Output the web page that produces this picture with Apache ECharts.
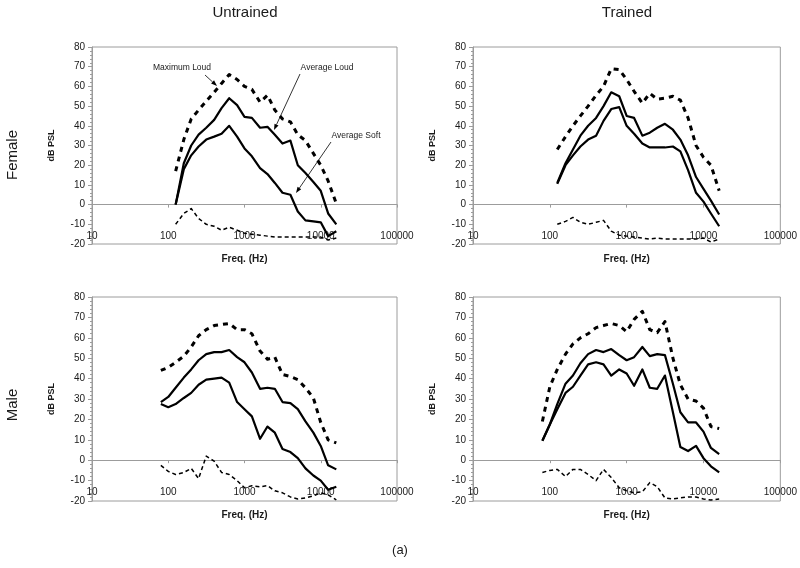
<!DOCTYPE html>
<html><head><meta charset="utf-8">
<script src="https://cdn.jsdelivr.net/npm/echarts@6/dist/echarts.min.js"></script>
<style>html,body{margin:0;padding:0;background:#fff}#c{width:800px;height:568px}</style>
</head><body><div id="c"></div>
<script>
// ---- categories (1/3-octave band centre frequencies, Hz) ----
const freqFemale = [125,160,200,250,315,400,500,630,800,1000,1250,1600,2000,2500,3150,4000,5000,6300,8000,10000,12500,16000];
const freqMale = [80,100,125,160,200,250,315,400,500,630,800,1000,1250,1600,2000,2500,3150,4000,5000,6300,8000,10000,12500,16000];

// ---- tick labels ----
const xTickLabels = [10, 100, 1000, 10000, 100000];
const yTickLabels = [-20, -10, 0, 10, 20, 30, 40, 50, 60, 70, 80];

// ---- Female, untrained ----
const fuMaxLoud = [17, 33, 43.5, 48, 52.5, 57, 61.5, 66, 63.5, 60, 58.5, 52, 55.5, 48, 43.5, 42, 35.5, 32.5, 26, 20, 12, 0.5];
const fuAvgLoud = [0, 21, 30, 35.5, 39, 43, 49, 54, 50.5, 44.5, 44, 39, 39.5, 35.5, 31, 32.5, 20, 16, 11.5, 7, -4.5, -10];
const fuAvgSoft = [0, 18, 25, 29.5, 33, 34.5, 36, 40, 34.5, 28.5, 24.5, 18.5, 15.5, 11, 6, 5, -3.5, -8, -8.5, -9, -16, -13.5];
const fuLower   = [-10, -4.5, -2, -7, -10, -11, -13, -11.5, -13, -14.5, -15, -15.5, -16, -16.5, -16.5, -16.5, -16.5, -16.5, -16.5, -16.5, -18, -17];

// ---- Female, trained ----
const ftMaxLoud = [28, 34.5, 40, 45, 50, 55.5, 60, 69, 68.5, 63.5, 57.5, 51.5, 56.5, 53.5, 54, 55, 53, 44, 30, 24, 20, 7];
const ftAvgLoud = [11, 21, 28, 35, 40, 44, 50, 57, 55, 45, 44, 35, 36.5, 39, 41, 38, 33, 25, 14, 8, 2, -5];
const ftAvgSoft = [10.5, 20, 25, 29.5, 33, 35, 42.5, 48.5, 49.5, 40, 36, 31, 29, 29, 29, 29.5, 27, 17.5, 6, 1.5, -4.5, -11];
const ftLower   = [-10, -8.5, -6.5, -9, -10, -9, -8, -13.5, -15.5, -16, -16.5, -17, -17.5, -17, -17.5, -17.5, -17.5, -17.5, -17.5, -17, -19, -17.5];

// ---- Male, untrained ----
const muMaxLoud = [44, 45.5, 48, 51, 55.5, 61, 64, 66, 66.5, 67, 64, 64, 62, 53.5, 49.5, 50.5, 42, 41, 39.5, 35.5, 30.5, 18.5, 10, 8.5];
const muAvgLoud = [28.5, 31, 35.5, 40.5, 44.5, 49, 52, 53, 53, 54, 50.5, 48, 43, 35, 35.5, 35, 28.5, 28, 25, 19, 13.5, 7, -2.5, -4.5];
const muAvgSoft = [27.5, 26, 27.5, 30.5, 33, 37, 39.5, 40, 40.5, 38, 28.5, 25, 21.5, 10.5, 16.5, 13.5, 5.5, 4, 1, -4, -7.5, -10, -14.5, -13];
const muLower   = [-2.5, -5.5, -7, -6, -4, -9, 2, -0.5, -6, -7, -10, -13.5, -12.5, -13, -12.5, -15, -16, -18, -19, -18.5, -17.5, -16, -17, -19.5];

// ---- Male, trained ----
const mtMaxLoud = [19, 36, 44.5, 52, 57, 60, 62, 65, 66, 67, 66, 63, 69, 73, 64, 62.5, 68, 50, 37, 30, 29, 25.5, 16.5, 15.5];
const mtAvgLoud = [9.5, 17.5, 27.5, 37.5, 41.5, 47.5, 52, 54, 53, 54.5, 51.5, 49, 50.5, 55.5, 51, 52, 51.5, 37.5, 23.5, 18.5, 18.5, 14, 6, 3];
const mtAvgSoft = [9.5, 17.5, 25, 33, 36, 41.5, 47, 48, 47, 41.5, 44.5, 42.5, 36.5, 44.5, 35.5, 35, 41.5, 23.5, 6.5, 4.5, 7, 1, -3, -6];
const mtLower   = [-6, -5, -4.5, -8, -4.5, -4.5, -7, -10, -4.5, -8.5, -13.5, -15, -16, -15.5, -11, -13, -18.5, -19, -18.5, -18, -18, -19, -19.5, -19];

const FONT = "'Liberation Sans', Arial, sans-serif";
const GRAY = '#9c9c9c';
const TXT = '#1a1a1a';

const panels = [
  {freq: freqFemale, ml: fuMaxLoud, al: fuAvgLoud, as: fuAvgSoft, lo: fuLower, grid: {left: 92, top: 47, width: 305, height: 197}},
  {freq: freqFemale, ml: ftMaxLoud, al: ftAvgLoud, as: ftAvgSoft, lo: ftLower, grid: {left: 473, top: 47, width: 308, height: 197}},
  {freq: freqMale,   ml: muMaxLoud, al: muAvgLoud, as: muAvgSoft, lo: muLower, grid: {left: 92, top: 297, width: 305, height: 204}},
  {freq: freqMale,   ml: mtMaxLoud, al: mtAvgLoud, as: mtAvgSoft, lo: mtLower, grid: {left: 473, top: 297, width: 308, height: 204}}
];

const yMin = yTickLabels[0], yMax = yTickLabels[yTickLabels.length - 1];
const yStep = yTickLabels[1] - yTickLabels[0];
const xCross = -10;

const grids = [], xAxes = [], yAxes = [], series = [];
panels.forEach((p, i) => {
  grids.push(Object.assign({show: true, borderColor: GRAY, borderWidth: 1, backgroundColor: 'transparent'}, p.grid));
  const pxPerUnit = p.grid.height / (yMax - yMin);
  xAxes.push({
    type: 'log', logBase: 10, gridIndex: i,
    min: xTickLabels[0], max: xTickLabels[xTickLabels.length - 1],
    position: 'bottom',
    offset: -(xCross - yMin) * pxPerUnit,
    axisLine: {show: true, lineStyle: {color: GRAY, width: 1}},
    axisTick: {show: true, length: 3, lineStyle: {color: GRAY}},
    minorTick: {show: false},
    splitLine: {show: false},
    axisLabel: {fontSize: 10, color: TXT, fontFamily: FONT, margin: 7,
      showMinLabel: true, showMaxLabel: true,
      formatter: v => String(Math.round(v))},
    name: 'Freq. (Hz)', nameLocation: 'middle', nameGap: 30,
    nameTextStyle: {fontSize: 10, fontWeight: 'bold', color: TXT, fontFamily: FONT}
  });
  yAxes.push({
    type: 'value', gridIndex: i, min: yMin, max: yMax, interval: yStep,
    axisLine: {show: true, lineStyle: {color: GRAY, width: 1}},
    axisTick: {show: true, length: 4, lineStyle: {color: GRAY}},
    minorTick: {show: true, splitNumber: 5, length: 2, lineStyle: {color: GRAY}},
    splitLine: {show: false},
    axisLabel: {fontSize: 10, color: TXT, fontFamily: FONT, margin: 7},
    name: 'dB PSL', nameLocation: 'middle', nameGap: 36, nameRotate: 90,
    nameTextStyle: {fontSize: 9, fontWeight: 'bold', color: TXT, fontFamily: FONT}
  });
  const mk = (name, arr, ls, z) => ({
    name, type: 'line', xAxisIndex: i, yAxisIndex: i,
    data: p.freq.map((f, k) => [f, arr[k]]),
    showSymbol: false, symbol: 'none', silent: true, z,
    lineStyle: Object.assign({color: '#000', cap: 'butt', join: 'round'}, ls)
  });
  series.push(mk('Maximum Loud', p.ml, {width: 3, type: [5, 5]}, 3));
  series.push(mk('Average Loud', p.al, {width: 2.2, type: 'solid'}, 4));
  series.push(mk('Average Soft', p.as, {width: 2.2, type: 'solid'}, 4));
  series.push(mk('Lower trace', p.lo, {width: 1.5, type: [4, 3]}, 2));
});

function arrow(x1, y1, x2, y2) {
  const a = Math.atan2(y2 - y1, x2 - x1), L = 6, W = 2.2;
  const bx = x2 - L * Math.cos(a), by = y2 - L * Math.sin(a);
  const nx = -Math.sin(a) * W, ny = Math.cos(a) * W;
  return [
    {type: 'line', shape: {x1, y1, x2: bx, y2: by}, style: {stroke: '#000', lineWidth: 0.8}, silent: true, z: 10},
    {type: 'polygon', shape: {points: [[x2, y2], [bx + nx, by + ny], [bx - nx, by - ny]]}, style: {fill: '#000'}, silent: true, z: 10}
  ];
}
function txt(text, x, y, size, extra) {
  return Object.assign({type: 'text', x, y, silent: true, z: 10,
    style: {text, font: `${size}px ${FONT}`, fill: TXT, align: 'center', verticalAlign: 'middle'}}, extra || {});
}

const graphic = [
  txt('Untrained', 245, 13, 15),
  txt('Trained', 627, 13, 15),
  txt('Female', 13, 155, 15, {rotation: Math.PI / 2}),
  txt('Male', 13, 405, 15, {rotation: Math.PI / 2}),
  txt('(a)', 400, 550, 13),
  txt('Maximum Loud', 182, 68, 8.5),
  txt('Average Loud', 327, 68, 8.5),
  txt('Average Soft', 356, 136, 8.5),
  ...arrow(205, 75, 217, 86),
  ...arrow(300, 74, 274, 130),
  ...arrow(331, 142, 296, 193)
];

const chart = echarts.init(document.getElementById('c'), null, {renderer: 'canvas'});
chart.setOption({
  animation: false,
  backgroundColor: '#fff',
  textStyle: {fontFamily: FONT},
  grid: grids, xAxis: xAxes, yAxis: yAxes, series, graphic
});
</script></body></html>
